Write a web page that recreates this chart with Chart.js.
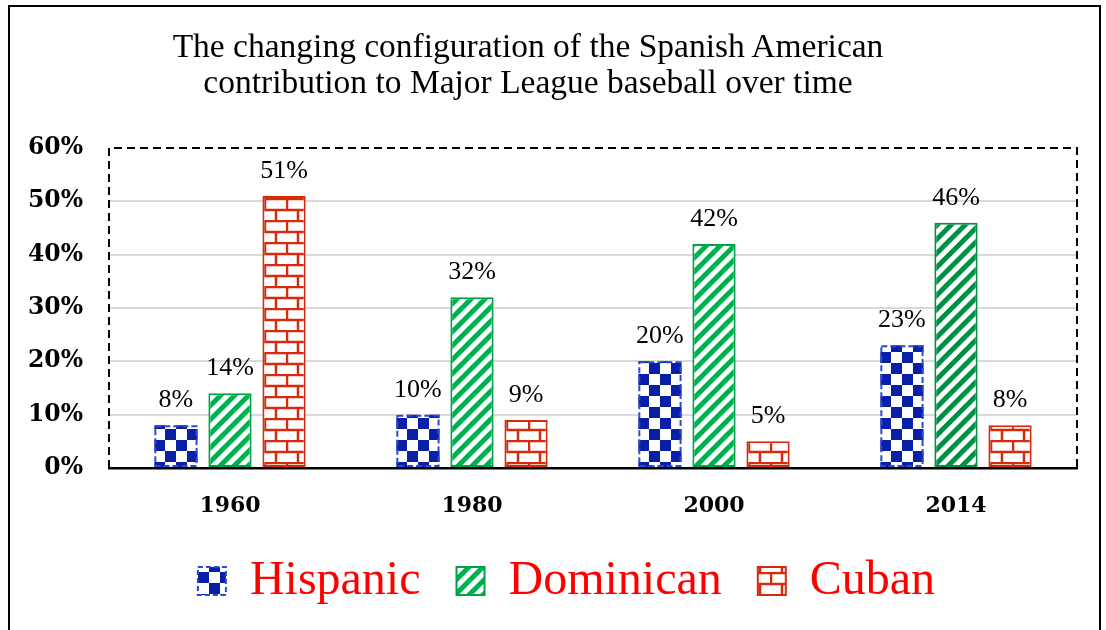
<!DOCTYPE html>
<html lang="en">
<head>
<meta charset="UTF-8">
<title>Spanish American contribution to Major League baseball</title>
<style>
    body {
        margin: 0;
        background: #fff;
    }
    #wrap {
        position: relative;
        width: 1106px;
        height: 630px;
        overflow: hidden;
    }
    #frame {
        position: absolute;
        left: 8px;
        top: 5px;
        width: 1089px;
        height: 660px;
        border: 2px solid #000;
    }
    #title {
        position: absolute;
        left: 0;
        top: 28px;
        width: 1056px;
        text-align: center;
        font: 33.5px 'Liberation Serif', serif;
        line-height: 36px;
        color: #000;
    }
    canvas {
        position: absolute;
        left: 0;
        top: 0;
    }
</style>
</head>
<body>
<div id="wrap">
    <div id="frame"></div>
    <canvas id="chart" width="1106" height="630"></canvas>
    <div id="title">The changing configuration of the Spanish American<br>contribution to Major League baseball over time</div>
</div>

<script src="https://cdn.jsdelivr.net/npm/chart.js@4.4.3/dist/chart.umd.min.js"></script>
<script>
    const years = ['1960', '1980', '2000', '2014'];
    const hispanic = [8, 10, 20, 23];
    const dominican = [14, 32, 42, 46];
    const cuban = [51, 9, 5, 8];
    const yTicks = [0, 10, 20, 30, 40, 50, 60];

    const BLUE = '#0a1fa8';
    const GREEN = '#00b050';
    const DARK_GREEN = '#008f45';
    const RED = '#d52b0c';

    function tile(w, h, paint) {
        const c = document.createElement('canvas');
        c.width = w;
        c.height = h;
        const g = c.getContext('2d');
        g.fillStyle = '#fff';
        g.fillRect(0, 0, w, h);
        paint(g);
        return g.createPattern(c, 'repeat');
    }

    function checker(color) {
        return tile(22, 22, g => {
            g.fillStyle = color;
            g.fillRect(0, 0, 11, 11);
            g.fillRect(11, 11, 11, 11);
        });
    }

    function stripes(color) {
        return tile(14, 14, g => {
            g.strokeStyle = color;
            g.lineWidth = 5;
            for (let k = -1; k <= 1; k++) {
                g.beginPath();
                g.moveTo(k * 14 - 2, 16);
                g.lineTo(k * 14 + 16, -2);
                g.stroke();
            }
        });
    }

    function bricks(color) {
        return tile(22, 22, g => {
            g.strokeStyle = color;
            g.lineWidth = 2.5;
            g.beginPath();
            g.moveTo(0, 1); g.lineTo(22, 1);
            g.moveTo(0, 12); g.lineTo(22, 12);
            g.moveTo(1, 1); g.lineTo(1, 12);
            g.moveTo(12, 12); g.lineTo(12, 23);
            g.stroke();
        });
    }

    const checkerFill = checker(BLUE);
    const stripeFill = stripes(GREEN);
    const darkStripeFill = stripes(DARK_GREEN);
    const brickFill = bricks(RED);

    // dashed outline for the checkered bars (bars can't do dashed borders)
    const dashedBars = {
        id: 'dashedBars',
        afterDatasetsDraw(chart) {
            const ctx = chart.ctx;
            ctx.save();
            ctx.strokeStyle = '#2b4bd0';
            ctx.lineWidth = 2;
            ctx.setLineDash([6, 3]);
            chart.getDatasetMeta(0).data.forEach(bar => {
                const w = bar.width;
                ctx.strokeRect(bar.x - w / 2 + 1, bar.y + 1, w - 2, bar.base - bar.y - 2);
            });
            ctx.restore();
        }
    };

    const plotFrame = {
        id: 'plotFrame',
        afterDatasetsDraw(chart) {
            const a = chart.chartArea;
            const ctx = chart.ctx;
            ctx.save();
            ctx.strokeStyle = '#000';
            ctx.lineWidth = 2;
            ctx.setLineDash([8, 5]);
            ctx.beginPath();
            ctx.moveTo(a.left, a.bottom);
            ctx.lineTo(a.left, a.top);
            ctx.lineTo(a.right, a.top);
            ctx.lineTo(a.right, a.bottom);
            ctx.stroke();
            ctx.restore();
        }
    };

    const valueLabels = {
        id: 'valueLabels',
        afterDatasetsDraw(chart) {
            const ctx = chart.ctx;
            ctx.save();
            ctx.font = '26px "Liberation Serif"';
            ctx.fillStyle = '#000';
            ctx.textAlign = 'center';
            ctx.textBaseline = 'alphabetic';
            chart.data.datasets.forEach((ds, i) => {
                chart.getDatasetMeta(i).data.forEach((bar, j) => {
                    ctx.fillText(ds.data[j] + '%', bar.x, bar.y - 18);
                });
            });
            ctx.restore();
        }
    };

    // legend sits a bit right of the canvas centre in the original
    const legendShift = {
        id: 'legendShift',
        afterLayout(chart) {
            chart.legend.left += 28;
            chart.legend.right += 28;
        }
    };

    const legendFills = [checkerFill, stripeFill, brickFill];
    const legendStrokes = ['#2b4bd0', '#00a04a', RED];

    new Chart(document.getElementById('chart'), {
        type: 'bar',
        data: {
            labels: years,
            datasets: [
                {
                    label: 'Hispanic',
                    data: hispanic,
                    backgroundColor: checkerFill,
                    borderWidth: 0
                },
                {
                    label: 'Dominican',
                    data: dominican,
                    backgroundColor: [stripeFill, stripeFill, stripeFill, darkStripeFill],
                    borderColor: ['#00a04a', '#00a04a', '#00a04a', DARK_GREEN],
                    borderWidth: 2,
                    borderSkipped: false
                },
                {
                    label: 'Cuban',
                    data: cuban,
                    backgroundColor: brickFill,
                    borderColor: RED,
                    borderWidth: 2,
                    borderSkipped: false
                }
            ]
        },
        options: {
            responsive: false,
            animation: false,
            categoryPercentage: 0.67,
            barPercentage: 0.8,
            layout: { padding: { top: 148, right: 29, left: 0, bottom: 15 } },
            plugins: {
                title: { display: false },
                tooltip: { enabled: false },
                legend: {
                    position: 'bottom',
                    labels: {
                        font: { family: 'Liberation Serif', size: 48 },
                        color: '#ff0000',
                        boxWidth: 28,
                        boxHeight: 28,
                        padding: 36,
                        generateLabels: chart => chart.data.datasets.map((ds, i) => ({
                            text: ds.label,
                            fillStyle: legendFills[i],
                            strokeStyle: legendStrokes[i],
                            lineWidth: 2,
                            lineDash: i === 0 ? [5, 3] : [],
                            fontColor: '#ff0000',
                            datasetIndex: i,
                            hidden: false
                        }))
                    }
                }
            },
            scales: {
                x: {
                    grid: { display: false },
                    border: { display: true, color: '#000', width: 2.5 },
                    ticks: {
                        color: '#000',
                        padding: 17,
                        font: { family: 'DejaVu Serif', size: 22, weight: 'bold' }
                    },
                    afterFit: scale => { scale.height = 53; }
                },
                y: {
                    min: 0,
                    max: 60,
                    afterBuildTicks: scale => { scale.ticks = yTicks.map(v => ({ value: v })); },
                    grid: {
                        drawTicks: false,
                        lineWidth: 2,
                        color: c => (c.tick.value === 0 || c.tick.value === 60) ? 'rgba(0,0,0,0)' : '#d9d9d9'
                    },
                    border: { display: false },
                    ticks: {
                        color: '#000',
                        padding: 26,
                        font: { family: 'DejaVu Serif', size: 23.5, weight: 'bold' },
                        callback: v => v + '%'
                    },
                    afterFit: scale => { scale.width = 109; }
                }
            }
        },
        plugins: [dashedBars, plotFrame, valueLabels, legendShift]
    });
</script>
</body>
</html>
